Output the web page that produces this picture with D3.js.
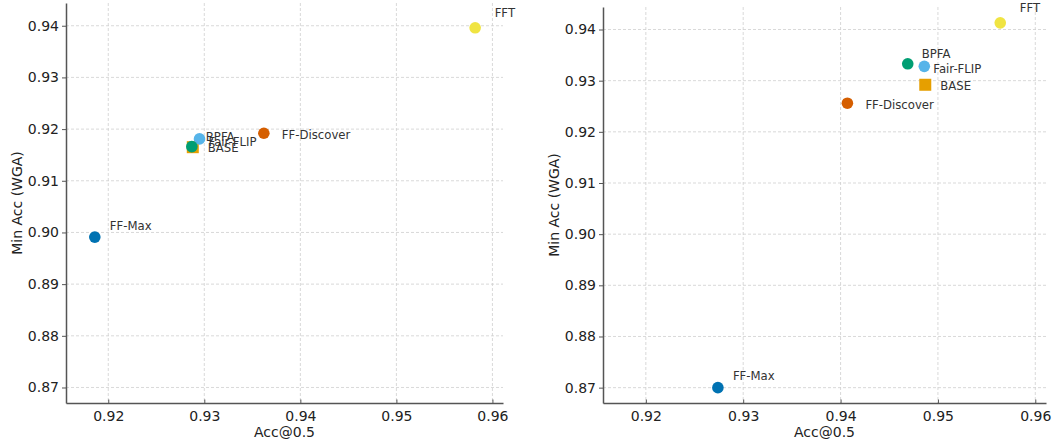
<!DOCTYPE html>
<html>
<head>
<meta charset="utf-8">
<script src="https://cdn.jsdelivr.net/npm/d3@7"></script>
<style>
body { margin: 0; background: #fff; }
text { font-family: "DejaVu Sans", sans-serif; }
</style>
</head>
<body>
<script>
// methods, drawing order (BASE first so the others sit on top)
var methods = ["BASE", "Fair-FLIP", "BPFA", "FF-Max", "FF-Discover", "FFT"];
var colors = ["#E69F00", "#56B4E9", "#009E73", "#0072B2", "#D55E00", "#F0E442"];
var shapes = ["square", "circle", "circle", "circle", "circle", "circle"];

// left panel
var leftAcc = [0.9288, 0.9295, 0.9287, 0.9186, 0.9362, 0.9582];
var leftWga = [0.9165, 0.9181, 0.9166, 0.8991, 0.9192, 0.9396];
// right panel
var rightAcc = [0.9487, 0.9486, 0.9469, 0.9274, 0.9407, 0.9564];
var rightWga = [0.9292, 0.9328, 0.9333, 0.8700, 0.9256, 0.9413];

var xTicks = [0.92, 0.93, 0.94, 0.95, 0.96];
var yTicks = [0.87, 0.88, 0.89, 0.90, 0.91, 0.92, 0.93, 0.94];
var xDomain = [0.9156, 0.9611];
var yDomain = [0.867, 0.9444];

// label offsets in px (dx, dy of text centre line)
var labelDx = [15, 9, 14, 15, 18, 19.5];
var labelDy = [1, 2.5, -9.5, -11.5, 1.5, -14.5];

var svg = d3.select("body").append("svg")
	.attr("width", 1053)
	.attr("height", 442);

function panel(box, acc, wga) {
	var x = d3.scaleLinear().domain(xDomain).range([box.left, box.right]);
	var y = d3.scaleLinear().domain(yDomain).range([box.bottom, box.top]);
	var g = svg.append("g");

	// grid
	g.selectAll("line.gx").data(xTicks).enter().append("line")
		.attr("x1", d => x(d)).attr("x2", d => x(d))
		.attr("y1", box.top).attr("y2", box.bottom)
		.attr("stroke", "#cfcfcf").attr("stroke-width", 0.8)
		.attr("stroke-dasharray", "3,2");
	g.selectAll("line.gy").data(yTicks).enter().append("line")
		.attr("x1", box.left).attr("x2", box.right)
		.attr("y1", d => y(d)).attr("y2", d => y(d))
		.attr("stroke", "#cfcfcf").attr("stroke-width", 0.8)
		.attr("stroke-dasharray", "3,2");

	// axes
	var xa = g.append("g")
		.attr("transform", "translate(0," + box.bottom + ")")
		.call(d3.axisBottom(x).tickValues(xTicks).tickFormat(d3.format(".2f")).tickSize(-3.5).tickSizeOuter(0).tickPadding(8));
	var ya = g.append("g")
		.attr("transform", "translate(" + box.left + ",0)")
		.call(d3.axisLeft(y).tickValues(yTicks).tickFormat(d3.format(".2f")).tickSize(4).tickSizeOuter(0).tickPadding(3));
	[xa, ya].forEach(function (a) {
		a.select(".domain").attr("stroke", "#555").attr("stroke-width", 1.5);
		a.selectAll(".tick line").attr("stroke", "#555").attr("stroke-width", 1);
		a.selectAll(".tick text").attr("fill", "#222")
			.style("font-family", "DejaVu Sans").style("font-size", "14px");
	});

	g.append("text")
		.attr("x", (box.left + box.right) / 2).attr("y", 437)
		.attr("text-anchor", "middle").attr("fill", "#222")
		.style("font-size", "14px").text("Acc@0.5");
	g.append("text")
		.attr("transform", "translate(" + (box.left - 49) + "," + ((box.top + box.bottom) / 2) + ") rotate(-90)")
		.attr("text-anchor", "middle").attr("dy", "0.35em").attr("fill", "#222")
		.style("font-size", "14px").text("Min Acc (WGA)");

	var pts = methods.map(function (m, i) {
		return {name: m, acc: acc[i], wga: wga[i], color: colors[i], shape: shapes[i], dx: labelDx[i], dy: labelDy[i]};
	});

	// markers first, labels on top
	pts.forEach(function (d) {
		if (d.shape == "square") {
			g.append("rect")
				.attr("x", x(d.acc) - 6).attr("y", y(d.wga) - 6)
				.attr("width", 12).attr("height", 12)
				.attr("fill", d.color);
		} else {
			g.append("circle")
				.attr("cx", x(d.acc)).attr("cy", y(d.wga)).attr("r", 5.8)
				.attr("fill", d.color);
		}
	});

	g.selectAll("text.lbl").data(pts).enter().append("text")
		.attr("class", "lbl")
		.attr("x", d => x(d.acc) + d.dx)
		.attr("y", d => y(d.wga) + d.dy)
		.attr("dy", "0.35em")
		.attr("fill", "#333")
		.style("font-size", "11.7px")
		.text(d => d.name);
}

panel({left: 66, right: 503, top: 3, bottom: 403}, leftAcc, leftWga);
panel({left: 603, right: 1046, top: 7, bottom: 403}, rightAcc, rightWga);
</script>
</body>
</html>
